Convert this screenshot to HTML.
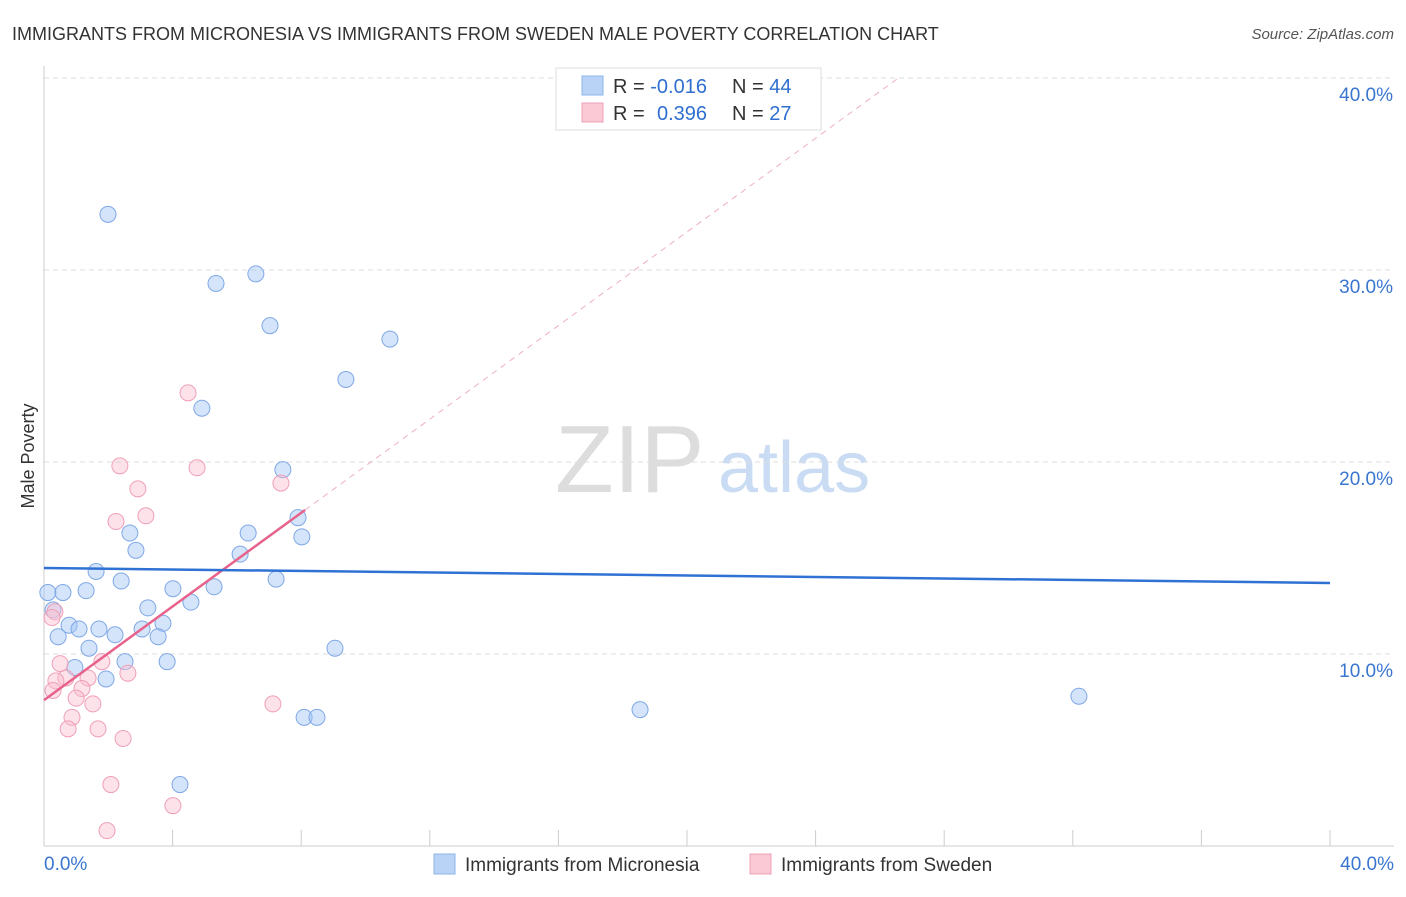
<!DOCTYPE html>
<html><head><meta charset="utf-8"><style>
body{margin:0;background:#fff;font-family:"Liberation Sans",sans-serif;}
svg text{font-family:"Liberation Sans",sans-serif;}
</style></head><body>
<svg id="chart" width="1406" height="892">
<text x="12" y="40" font-size="18" fill="#333">IMMIGRANTS FROM MICRONESIA VS IMMIGRANTS FROM SWEDEN MALE POVERTY CORRELATION CHART</text>
<text x="1394" y="39" font-size="15" fill="#555" font-style="italic" text-anchor="end">Source: ZipAtlas.com</text>
<text x="34" y="456" font-size="18" fill="#333" transform="rotate(-90 34 456)" text-anchor="middle">Male Poverty</text>
<text x="555" y="492" font-size="96" fill="#ddd" font-family="Liberation Serif">ZIP</text>
<text x="718" y="492" font-size="72" fill="#c9dcf3">atlas</text>
<g id="grid"></g><g id="marks"></g>
<g>
<rect x="556" y="68" width="265" height="62" fill="#fff" stroke="#ddd"/>
<rect x="582" y="76" width="21" height="19" fill="#b9d3f7" stroke="#8fb4e8"/>
<rect x="582" y="103" width="21" height="19" fill="#fbc8d6" stroke="#f0a0b8"/>
<text x="613" y="93" font-size="20" fill="#333">R = <tspan fill="#2f6fd0">-0.016</tspan></text>
<text x="732" y="93" font-size="20" fill="#333">N = <tspan fill="#2f6fd0">44</tspan></text>
<text x="613" y="120" font-size="20" fill="#333">R = <tspan fill="#2f6fd0" x="657">0.396</tspan></text>
<text x="732" y="120" font-size="20" fill="#333">N = <tspan fill="#2f6fd0">27</tspan></text>
</g>
<g>
<rect x="434" y="854" width="21" height="20" fill="#b9d3f7" stroke="#8fb4e8"/>
<text x="465" y="871" font-size="19" fill="#333">Immigrants from Micronesia</text>
<rect x="750" y="854" width="21" height="20" fill="#fbc8d6" stroke="#f0a0b8"/>
<text x="781" y="871" font-size="19" fill="#333">Immigrants from Sweden</text>
</g>
</svg>
<script>
const xTicks=[0,4,8,12,16,20,24,28,32,36,40];
const yTicks=[10,20,30,40];
const yTickLabels=["10.0%","20.0%","30.0%","40.0%"];
const blueX=[1.99,5.35,6.59,7.03,10.76,9.39,4.91,7.43,7.90,2.67,6.35,2.86,8.02,6.10,1.62,2.40,7.22,4.01,5.29,0.59,1.31,0.12,3.23,4.57,0.28,0.78,1.09,1.71,0.44,2.21,3.05,3.70,3.55,1.40,9.05,2.52,3.83,0.96,1.93,8.09,8.49,18.54,32.19,4.23];
const blueY=[32.9,29.3,29.8,27.1,26.4,24.3,22.8,19.6,17.1,16.3,16.3,15.4,16.1,15.2,14.3,13.8,13.9,13.4,13.5,13.2,13.3,13.2,12.4,12.7,12.3,11.5,11.3,11.3,10.9,11.0,11.3,11.6,10.9,10.3,10.3,9.6,9.6,9.3,8.7,6.7,6.7,7.1,7.8,3.2];
const pinkX=[4.48,2.36,4.76,2.92,7.37,2.24,3.17,0.34,0.25,0.50,1.80,0.68,1.37,0.37,1.18,0.28,1.00,1.52,2.61,0.87,0.75,1.68,2.46,7.12,2.08,4.01,1.96];
const pinkY=[23.6,19.8,19.7,18.6,18.9,16.9,17.2,12.2,11.9,9.5,9.6,8.75,8.75,8.6,8.2,8.1,7.7,7.4,9.0,6.7,6.1,6.1,5.6,7.4,3.2,2.1,0.8];
const blueTrend=[14.48,13.70];
const pinkTrend=[7.6,17.5];
const pinkTrendEndX=8.12;
const X=v=>44+v*32.15, Y=v=>846-v*19.2;
const NS="http://www.w3.org/2000/svg";
const grid=document.getElementById('grid'), marks=document.getElementById('marks');
function mk(p,tag,a){const e=document.createElementNS(NS,tag);for(const k in a)e.setAttribute(k,a[k]);p.appendChild(e);return e;}
yTicks.forEach((t,i)=>{
 const l=mk(grid,'line',{x1:44,x2:1394,y1:Y(t),y2:Y(t),stroke:'#ddd','stroke-dasharray':'5,4'});
 
 
 const tx=mk(grid,'text',{x:1393,y:Y(t)+23,'font-size':19,fill:'#3a76d0','text-anchor':'end'});
 tx.textContent=yTickLabels[i];
 
 
});
const ax=mk(grid,'line',{x1:44,x2:1394,y1:846,y2:846,stroke:'#ccc'});


const ay=mk(grid,'line',{x1:44,x2:44,y1:66,y2:846,stroke:'#ccc'});


xTicks.forEach(t=>{
 const l=mk(grid,'line',{x1:X(t),x2:X(t),y1:830,y2:846,stroke:'#ccc'});
 
 
});
const xl0=mk(grid,'text',{x:44,y:870,'font-size':19,fill:'#3a76d0'});xl0.textContent='0.0%';


const xl1=mk(grid,'text',{x:1394,y:870,'font-size':19,fill:'#3a76d0','text-anchor':'end'});xl1.textContent='40.0%';


blueX.forEach((x,i)=>{
 const c=mk(marks,'circle',{cx:X(x),cy:Y(blueY[i]),r:8,fill:'rgba(160,195,245,0.45)',stroke:'#7fa8e6','stroke-width':1});
 
 
});
pinkX.forEach((x,i)=>{
 const c=mk(marks,'circle',{cx:X(x),cy:Y(pinkY[i]),r:8,fill:'rgba(250,190,208,0.45)',stroke:'#ef9fb8','stroke-width':1});
 
 
});
const slope=(pinkTrend[1]-pinkTrend[0])/pinkTrendEndX;
const xEnd=(40-pinkTrend[0])/slope;
const pd=mk(marks,'line',{x1:X(pinkTrendEndX),y1:Y(pinkTrend[1]),x2:X(xEnd),y2:Y(40),stroke:'#eeb0c2','stroke-dasharray':'6,5','stroke-width':1});


const pt=mk(marks,'line',{x1:X(0),y1:Y(pinkTrend[0]),x2:X(pinkTrendEndX),y2:Y(pinkTrend[1]),stroke:'#e8638b','stroke-width':2.5});


const bt=mk(marks,'line',{x1:X(0),y1:Y(blueTrend[0]),x2:X(40),y2:Y(blueTrend[1]),stroke:'#2f72d4','stroke-width':2.5});


</script>
</body></html>
